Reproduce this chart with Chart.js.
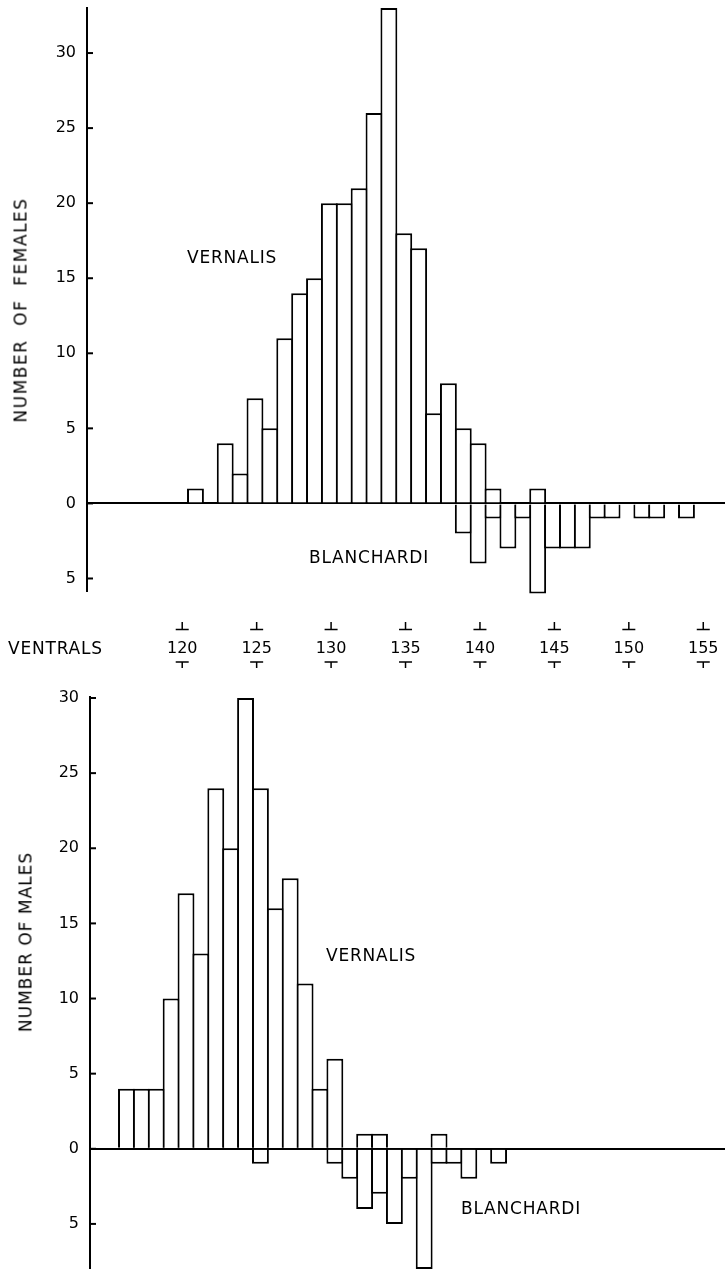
<!DOCTYPE html>
<html>
<head>
<meta charset="utf-8">
<title>Ventrals</title>
<script src="https://cdn.jsdelivr.net/npm/chart.js@4.4.1/dist/chart.umd.min.js"></script>
<style>
  body { margin: 0; background: #fff; }
  #page { position: relative; width: 725px; height: 1269px; overflow: hidden; font-family: "DejaVu Sans", sans-serif; color: #000; }
  canvas { position: absolute; left: 0; }
  .lbl { position: absolute; font-size: 17px; line-height: 1; letter-spacing: 0.8px; white-space: nowrap; }
  .ytitle { position: absolute; font-size: 17px; line-height: 1; letter-spacing: 1.5px; white-space: pre;
            transform: translate(-50%, -50%) rotate(-90deg); }
</style>
</head>
<body>
<div id="page">
  <canvas id="females" width="725" height="600" style="top:0"></canvas>
  <canvas id="axis" width="725" height="70" style="top:610px"></canvas>
  <canvas id="males" width="725" height="589" style="top:680px"></canvas>

  <div class="ytitle" style="left:21px; top:310px">NUMBER  OF  FEMALES</div>
  <div class="ytitle" style="left:26px; top:942px; letter-spacing:1px">NUMBER OF MALES</div>
  <div class="lbl" style="left:187px; top:249px">VERNALIS</div>
  <div class="lbl" style="left:309px; top:549px">BLANCHARDI</div>
  <div class="lbl" style="left:8px; top:640px">VENTRALS</div>
  <div class="lbl" style="left:326px; top:947px">VERNALIS</div>
  <div class="lbl" style="left:461px; top:1200px">BLANCHARDI</div>
</div>

<script>
// ventral counts (x) and number of specimens per count
const femaleVentrals   = [121,122,123,124,125,126,127,128,129,130,131,132,133,134,135,136,137,
                          138,139,140,141,142,143,144,145,146,147,148,149,150,151,152,153,154];
const femaleVernalis   = [1,0,4,2,7,5,11,14,15,20,20,21,26,33,18,17,6,
                          8,5,4,1,0,0,1,0,0,0,0,0,0,0,0,0,0];
const femaleBlanchardi = [0,0,0,0,0,0,0,0,0,0,0,0,0,0,0,0,0,
                          0,2,4,1,3,1,6,3,3,3,1,1,0,1,1,0,1];

const maleVentrals     = [116,117,118,119,120,121,122,123,124,125,126,127,128,
                          129,130,131,132,133,134,135,136,137,138,139,140,141];
const maleVernalis     = [4,4,4,10,17,13,24,20,30,24,16,18,11,
                          4,6,0,1,1,0,0,0,1,0,0,0,0];
const maleBlanchardi   = [0,0,0,0,0,0,0,0,0,1,0,0,0,
                          0,1,2,4,3,5,2,8,1,1,2,0,1];

const ventralTicks = [120, 125, 130, 135, 140, 145, 150, 155];

const FONT = "DejaVu Sans";
const LINE = 2;

// vernalis drawn up, blanchardi drawn down from the zero line.
// bars are widened by one line width so neighbours share a single outline
function barSet(xs, counts, sign, unitPx) {
  return {
    data: xs.map((x, i) => ({ x: x, y: sign * counts[i] })),
    backgroundColor: "#fff",
    borderColor: "#000",
    borderWidth: LINE,
    borderSkipped: "start",
    barPercentage: 1 + LINE / unitPx,
    categoryPercentage: 1,
    grouped: false,
    clip: false
  };
}

// short tick marks pointing into the plot
const innerTicks = {
  id: "innerTicks",
  afterDraw(chart) {
    const y = chart.scales.y;
    const ctx = chart.ctx;
    ctx.save();
    ctx.strokeStyle = "#000";
    ctx.lineWidth = 2;
    y.ticks.forEach(t => {
      const py = y.getPixelForValue(t.value);
      ctx.beginPath();
      ctx.moveTo(y.right, py);
      ctx.lineTo(y.right + 6, py);
      ctx.stroke();
    });
    ctx.restore();
  }
};

function histogram(id, xs, up, down, opts) {
  const unitPx = (725 - opts.axisX) / (opts.xMax - opts.xMin);
  return new Chart(document.getElementById(id), {
    type: "bar",
    data: { datasets: [barSet(xs, up, 1, unitPx), barSet(xs, down, -1, unitPx)] },
    options: {
      responsive: false,
      animation: false,
      layout: { padding: { top: opts.padTop, bottom: opts.padBottom, left: 0, right: 0 } },
      plugins: { legend: { display: false }, tooltip: { enabled: false } },
      scales: {
        x: { type: "linear", min: opts.xMin, max: opts.xMax, offset: false, display: false },
        y: {
          min: opts.yMin, max: opts.yMax,
          z: 1,
          afterFit: s => { s.width = opts.axisX; s.paddingTop = 0; s.paddingBottom = 0; },
          border: { color: "#000", width: 2 },
          grid: {
            drawTicks: false,
            lineWidth: 2,
            color: c => (c.tick && c.tick.value === 0 ? "#000" : "rgba(0,0,0,0)")
          },
          ticks: {
            stepSize: 5,
            includeBounds: false,
            padding: 11,
            color: "#000",
            font: { family: FONT, size: 16 },
            callback: v => Math.abs(v)
          }
        }
      }
    },
    plugins: [innerTicks]
  });
}

histogram("females", femaleVentrals, femaleVernalis, femaleBlanchardi, {
  padTop: 8, padBottom: 9.5, yMin: -5.8, yMax: 33,
  xMin: 113.71, xMax: 156.59, axisX: 87
});

histogram("males", maleVentrals, maleVernalis, maleBlanchardi, {
  padTop: 16.5, padBottom: 0, yMin: -8.0, yMax: 30.1,
  xMin: 113.55, xMax: 156.21, axisX: 90
});

// shared ventral scale between the two panels
const ventralMarks = {
  id: "ventralMarks",
  afterDraw(chart) {
    const x = chart.scales.x;
    const ctx = chart.ctx;
    ctx.save();
    ctx.strokeStyle = "#000";
    ctx.lineWidth = 1.5;
    ventralTicks.forEach(v => {
      const px = x.getPixelForValue(v);
      ctx.beginPath();
      ctx.moveTo(px, 12); ctx.lineTo(px, 19.5);
      ctx.moveTo(px - 6.5, 19.5); ctx.lineTo(px + 6.5, 19.5);
      ctx.moveTo(px - 6.5, 52); ctx.lineTo(px + 6.5, 52);
      ctx.moveTo(px, 52); ctx.lineTo(px, 58);
      ctx.stroke();
    });
    ctx.restore();
  }
};

new Chart(document.getElementById("axis"), {
  type: "scatter",
  data: { datasets: [] },
  options: {
    responsive: false,
    animation: false,
    layout: { padding: 0 },
    plugins: { legend: { display: false }, tooltip: { enabled: false } },
    scales: {
      x: {
        type: "linear", min: 107.76, max: 156.46,
        afterBuildTicks: s => { s.ticks = ventralTicks.map(v => ({ value: v })); },
        afterFit: s => { s.height = 48.6; s.paddingLeft = 0; s.paddingRight = 0; },
        grid: { display: false },
        border: { display: false },
        ticks: { padding: 0, autoSkip: false, maxRotation: 0, color: "#000", font: { family: FONT, size: 16 } }
      },
      y: { display: false, min: 0, max: 1 }
    }
  },
  plugins: [ventralMarks]
});
</script>
</body>
</html>
